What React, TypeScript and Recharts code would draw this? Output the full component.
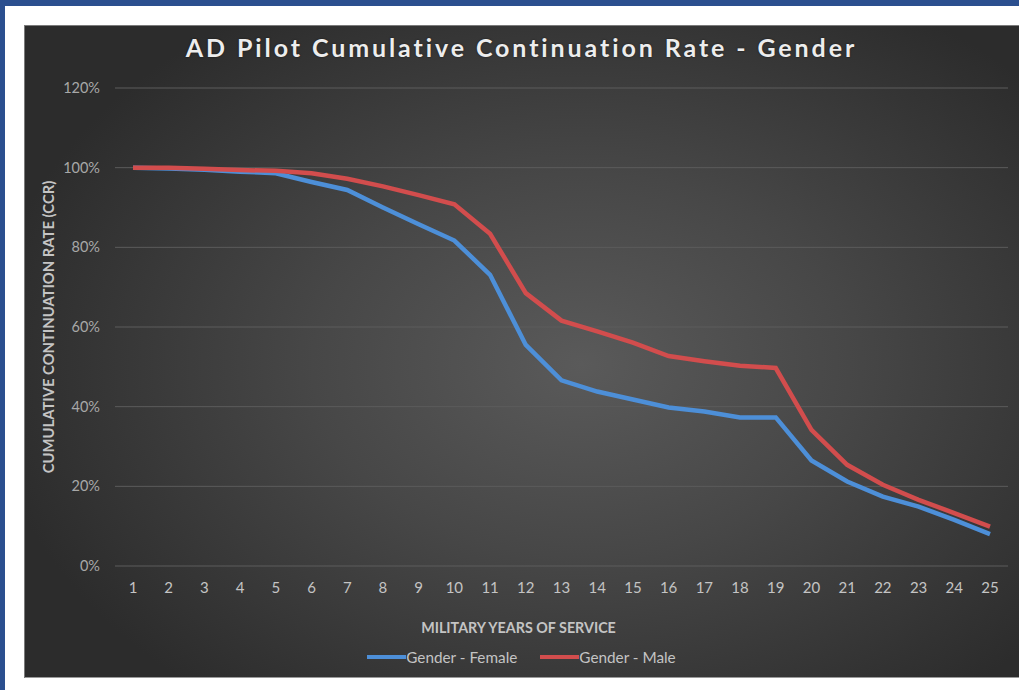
import { LineChart, Line, XAxis, YAxis, CartesianGrid, Legend } from "recharts";

const years = [1, 2, 3, 4, 5, 6, 7, 8, 9, 10, 11, 12, 13, 14, 15, 16, 17, 18, 19, 20, 21, 22, 23, 24, 25];
const female = [100, 99.8, 99.5, 99.0, 98.6, 96.4, 94.4, 90.0, 85.8, 81.7, 73.1, 55.5, 46.6, 43.8, 41.8, 39.8, 38.8, 37.3, 37.3, 26.5, 21.2, 17.4, 14.9, 11.6, 8.0];
const male = [100, 100, 99.7, 99.4, 99.2, 98.6, 97.2, 95.3, 93.1, 90.8, 83.4, 68.5, 61.6, 58.9, 56.1, 52.7, 51.4, 50.3, 49.7, 34.2, 25.4, 20.4, 16.6, 13.3, 9.9];
const yTicks = [0, 20, 40, 60, 80, 100, 120];

const data = years.map((year, i) => ({ year, female: female[i], male: male[i] }));

const W = 995;
const H = 653;
const FONT = "Lato, 'Open Sans', sans-serif";
const TEXT = "#c4c4c4";

function YTitle(props: any) {
  const vb = props.viewBox || { x: 0, y: 0, width: 0, height: 0 };
  const x = vb.x + 24;
  const y = vb.y + vb.height / 2;
  return (
    <text
      x={x}
      y={y}
      transform={`rotate(-90, ${x}, ${y})`}
      textAnchor="middle"
      dominantBaseline="central"
      fill={TEXT}
      fontSize={14.8}
      fontWeight={700}
      fontFamily={FONT}
    >
      CUMULATIVE CONTINUATION RATE (CCR)
    </text>
  );
}

function XTitle(props: any) {
  const vb = props.viewBox || { x: 0, y: 0, width: 0, height: 0 };
  return (
    <text
      x={W / 2 - 3}
      y={vb.y + 61}
      textAnchor="middle"
      dominantBaseline="central"
      fill={TEXT}
      fontSize={14.3}
      fontWeight={700}
      fontFamily={FONT}
    >
      MILITARY YEARS OF SERVICE
    </text>
  );
}

function LegendBox(props: any) {
  const items = props.payload || [];
  return (
    <div style={{ display: "flex", justifyContent: "center", gap: 23, fontFamily: FONT, fontSize: 15.3, color: TEXT }}>
      {items.map((it: any) => (
        <div key={it.value} style={{ display: "flex", alignItems: "center" }}>
          <span style={{ display: "inline-block", width: 39, height: 4, background: it.color }} />
          <span>{it.value}</span>
        </div>
      ))}
    </div>
  );
}

export default function App() {
  return (
    <div style={{ position: "absolute", left: 0, top: 0, width: 1019, height: 690, background: "#2b4f8f", overflow: "hidden" }}>
      <div style={{ position: "absolute", left: 5, top: 6, width: 1014, height: 684, background: "#ffffff" }} />
      <div
        style={{
          position: "absolute",
          left: 24,
          top: 25,
          width: W,
          height: H,
          background: "radial-gradient(ellipse 60% 65% at 56% 52%, #5a5a5a 0%, #474747 45%, #2c2c2c 100%)",
          boxShadow: "inset 1px 1px 0 #7a7a7a, inset 0 -1px 0 #9a9a9a",
        }}
      >
        <div
          style={{
            position: "absolute",
            left: 0,
            top: 7,
            width: W,
            textAlign: "center",
            fontFamily: FONT,
            fontSize: 25,
            fontWeight: 700,
            letterSpacing: 2.9,
            color: "#ededed",
            textShadow: "0 0 2px rgba(0,0,0,0.6)",
          }}
        >
          AD Pilot Cumulative Continuation Rate - Gender
        </div>
        <LineChart width={W} height={H} data={data} margin={{ top: 63, right: 11, bottom: 0, left: 0 }}>
          <CartesianGrid vertical={false} stroke="#5c5c5c" strokeWidth={1} />
          <XAxis
            dataKey="year"
            axisLine={false}
            tickLine={false}
            height={112}
            padding={{ left: 18, right: 18 }}
            tickMargin={10}
            interval={0}
            tick={{ fill: TEXT, fontSize: 15, fontFamily: FONT }}
            label={<XTitle />}
          />
          <YAxis
            domain={[0, 120]}
            ticks={yTicks}
            width={91}
            axisLine={false}
            tickLine={false}
            tickMargin={9}
            tickFormatter={(v) => `${v}%`}
            tick={{ fill: "#a8a8a8", fontSize: 14.5, fontFamily: FONT }}
            label={<YTitle />}
          />
          <Legend
            verticalAlign="middle"
            align="center"
            layout="horizontal"
            wrapperStyle={{ top: 623, left: 0, width: W }}
            content={<LegendBox />}
          />
          <Line
            type="linear"
            dataKey="female"
            name="Gender - Female"
            stroke="#4d8fd8"
            strokeWidth={4.5}
            dot={false}
            isAnimationActive={false}
          />
          <Line
            type="linear"
            dataKey="male"
            name="Gender - Male"
            stroke="#d24d4d"
            strokeWidth={4.5}
            dot={false}
            isAnimationActive={false}
          />
        </LineChart>
      </div>
    </div>
  );
}
